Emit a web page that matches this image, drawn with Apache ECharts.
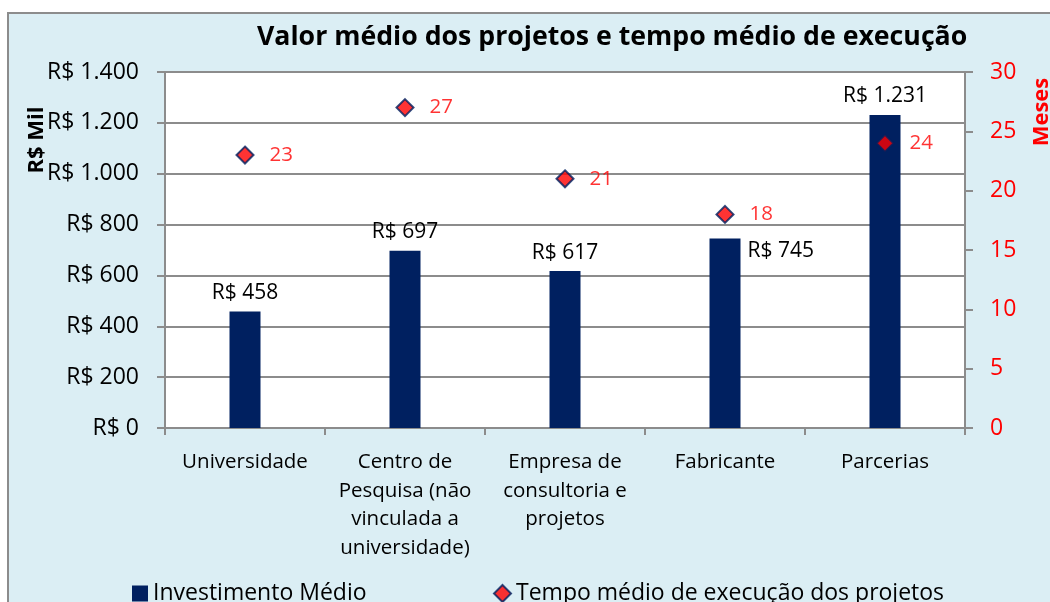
<!DOCTYPE html>
<html><head><meta charset="utf-8">
<script src="https://cdn.jsdelivr.net/npm/echarts@6/dist/echarts.min.js"></script>
<style>html,body{margin:0;padding:0;background:#fff}#c{width:1050px;height:602px}</style>
</head><body><div id="c"></div>
<script>
var categories = ['Universidade', 'Centro de\nPesquisa (não\nvinculada a\nuniversidade)', 'Empresa de\nconsultoria e\nprojetos', 'Fabricante', 'Parcerias'];
var investimento = [458, 697, 617, 745, 1231];
var tempo = [23, 27, 21, 18, 24];
var leftTicks = {min: 0, max: 1400, interval: 200};
var rightTicks = {min: 0, max: 30, interval: 5};

var FONT = 'Open Sans';
function money(v){ return 'R$ ' + String(v).replace(/\B(?=(\d{3})+(?!\d))/g, '.'); }

var barData = investimento.map(function(v, i){
  var d = {value: v};
  if (i === 3) d.label = {position: [38, 2]};
  return d;
});

var chart = echarts.init(document.getElementById('c'));
chart.setOption({
  animation: false,
  backgroundColor: '#ffffff',
  graphic: [
    {type: 'rect', z: -10, shape: {x: 8, y: 13, width: 1060, height: 600}, style: {fill: '#dbeef4', stroke: '#8c8c8c', lineWidth: 2}},
    {type: 'text', x: 37, y: 140, rotation: Math.PI/2, style: {text: 'R$ Mil', font: 'bold 22px "' + FONT + '"', fill: '#000', align: 'center', verticalAlign: 'middle'}},
    {type: 'text', x: 1042, y: 112, rotation: Math.PI/2, style: {text: 'Meses', font: 'bold 22px "' + FONT + '"', fill: '#ff0000', align: 'center', verticalAlign: 'middle'}}
  ],
  title: {
    text: 'Valor médio dos projetos e tempo médio de execução',
    left: 252, top: 19,
    textStyle: {fontFamily: FONT, fontWeight: 'bold', fontSize: 26.7, color: '#000'}
  },
  legend: [
    {data: ['Investimento Médio'], icon: 'rect', left: 127, top: 577, itemWidth: 16, itemHeight: 16, itemGap: 5,
     textStyle: {fontFamily: FONT, fontSize: 23, color: '#000'}},
    {data: ['Tempo médio de execução dos projetos'], left: 488, top: 577, itemWidth: 17, itemHeight: 17,
     textStyle: {fontFamily: FONT, fontSize: 23, color: '#000'}}
  ],
  grid: {left: 165, right: 85, top: 72, bottom: 174, show: true, backgroundColor: '#ffffff', borderWidth: 0},
  xAxis: {
    type: 'category', data: categories,
    axisLine: {lineStyle: {color: '#8c8c8c', width: 2}},
    axisTick: {show: true, alignWithLabel: false, length: 7, lineStyle: {color: '#8c8c8c', width: 2}},
    axisLabel: {fontFamily: FONT, fontSize: 20.5, color: '#000', lineHeight: 28.5, margin: 20, interval: 0}
  },
  yAxis: [
    {type: 'value', min: leftTicks.min, max: leftTicks.max, interval: leftTicks.interval,
     axisLine: {show: true, lineStyle: {color: '#8c8c8c', width: 2}},
     axisTick: {show: true, length: 8, lineStyle: {color: '#8c8c8c', width: 2}},
     splitLine: {lineStyle: {color: '#8c8c8c', width: 2}},
     axisLabel: {fontFamily: FONT, fontSize: 23, color: '#000', margin: 26, formatter: money}},
    {type: 'value', min: rightTicks.min, max: rightTicks.max, interval: rightTicks.interval,
     axisLine: {show: true, lineStyle: {color: '#8c8c8c', width: 2}},
     axisTick: {show: true, length: 8, lineStyle: {color: '#8c8c8c', width: 2}},
     splitLine: {show: false},
     axisLabel: {fontFamily: FONT, fontSize: 23, color: '#ff0000', margin: 25}}
  ],
  series: [
    {name: 'Investimento Médio', type: 'bar', yAxisIndex: 0, data: barData, barWidth: 31,
     itemStyle: {color: '#002060'},
     label: {show: true, position: 'top', distance: 8, fontFamily: FONT, fontSize: 21, color: '#000',
             formatter: function(p){ return money(p.value); }}},
    {name: 'Tempo médio de execução dos projetos', type: 'scatter', yAxisIndex: 1, data: tempo,
     symbol: 'diamond', symbolSize: 17, z: 5,
     itemStyle: {color: '#ff0000', borderColor: '#002060', borderWidth: 2},
     label: {show: true, position: 'right', distance: 15, fontFamily: FONT, fontSize: 20.5, color: '#ff0000'}}
  ]
});
</script></body></html>
